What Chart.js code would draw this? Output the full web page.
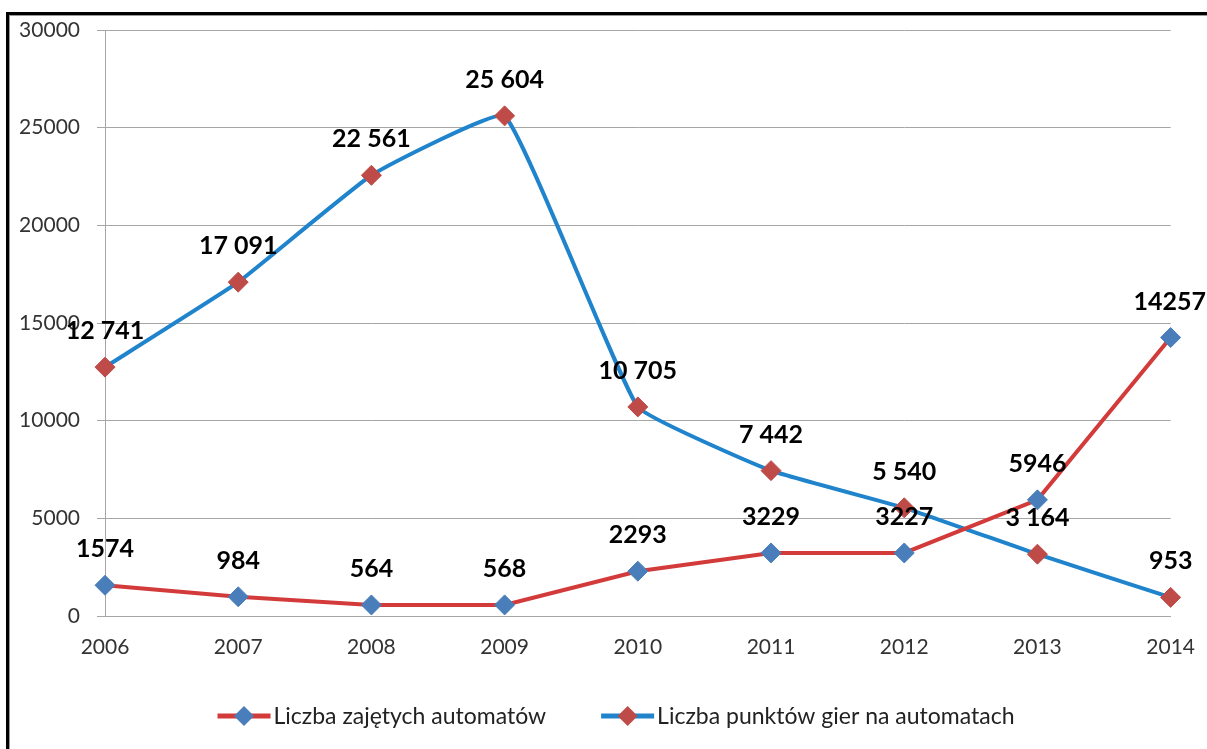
<!DOCTYPE html>
<html>
<head>
<meta charset="utf-8">
<script src="https://cdn.jsdelivr.net/npm/chart.js@4.4.1/dist/chart.umd.min.js"></script>
<style>
  html, body { margin: 0; padding: 0; background: #fff; }
  #frame {
    position: absolute; left: 6px; top: 12px; width: 1210px; height: 740px;
    border-left: 3px solid #000; border-top: 3px solid #000;
    box-shadow: inset 1px 1px 0 #9a9a9a;
  }
  #chart { position: absolute; left: 0; top: 0; }
</style>
</head>
<body>
<div id="frame"></div>
<canvas id="chart" width="1207" height="749"></canvas>
<script>
// lata na osi X
const years = ['2006', '2007', '2008', '2009', '2010', '2011', '2012', '2013', '2014'];

// Liczba zajętych automatów
const zajeteAutomaty = [1574, 984, 564, 568, 2293, 3229, 3227, 5946, 14257];

// Liczba punktów gier na automatach
const punktyGier = [12741, 17091, 22561, 25604, 10705, 7442, 5540, 3164, 953];

// oś Y
const yMin = 0;
const yMax = 30000;
const yStep = 5000;

const FONT = 'Lato';

const groupThousands = v => String(v).replace(/\B(?=(\d{3})+(?!\d))/g, ' ');

// etykiety wartości nad punktami
const pointLabels = {
    id: 'pointLabels',
    afterDatasetsDraw(chart) {
        const ctx = chart.ctx;
        ctx.save();
        ctx.font = `bold 25px ${FONT}`;
        ctx.fillStyle = '#000';
        ctx.textAlign = 'center';
        ctx.textBaseline = 'middle';
        chart.data.datasets.forEach((ds, i) => {
            const meta = chart.getDatasetMeta(i);
            meta.data.forEach((pt, j) => {
                const text = ds.grouped ? groupThousands(ds.data[j]) : String(ds.data[j]);
                const w = ctx.measureText(text).width;
                let x = pt.x;
                if (x + w / 2 > chart.width - 1) x = chart.width - 1 - w / 2;
                ctx.fillText(text, x, pt.y - 36);
            });
        });
        ctx.restore();
    }
};

// legenda: linia z rombem + opis
const lineLegend = {
    id: 'lineLegend',
    afterDraw(chart) {
        const ctx = chart.ctx;
        const sets = chart.data.datasets;
        const lineW = 53, gapText = 3, gapItem = 55;
        ctx.save();
        ctx.font = `23px ${FONT}`;
        const widths = sets.map(ds => lineW + gapText + ctx.measureText(ds.label).width);
        const total = widths.reduce((a, b) => a + b, 0) + gapItem * (sets.length - 1);
        let x = 616 - total / 2;
        const y = 716;
        sets.forEach((ds, i) => {
            ctx.strokeStyle = ds.borderColor;
            ctx.lineWidth = 5;
            ctx.beginPath();
            ctx.moveTo(x, y);
            ctx.lineTo(x + lineW, y);
            ctx.stroke();
            const r = 10, cx = x + lineW / 2;
            ctx.fillStyle = ds.pointBackgroundColor;
            ctx.beginPath();
            ctx.moveTo(cx, y - r);
            ctx.lineTo(cx + r, y);
            ctx.lineTo(cx, y + r);
            ctx.lineTo(cx - r, y);
            ctx.closePath();
            ctx.fill();
            ctx.fillStyle = '#222';
            ctx.textAlign = 'left';
            ctx.textBaseline = 'middle';
            ctx.fillText(ds.label, x + lineW + gapText, y + 1);
            x += widths[i] + gapItem;
        });
        ctx.restore();
    }
};

new Chart(document.getElementById('chart'), {
    type: 'line',
    data: {
        labels: years,
        datasets: [
            {
                label: 'Liczba zajętych automatów',
                data: zajeteAutomaty,
                grouped: false,
                borderColor: '#d33b3b',
                borderWidth: 4,
                tension: 0,
                pointStyle: 'rectRot',
                pointRadius: 10,
                pointBackgroundColor: '#4a7ebb',
                pointBorderColor: '#4a7ebb',
                pointBorderWidth: 1
            },
            {
                label: 'Liczba punktów gier na automatach',
                data: punktyGier,
                grouped: true,
                borderColor: '#1f84cc',
                borderWidth: 4,
                tension: 0.1,
                pointStyle: 'rectRot',
                pointRadius: 10,
                pointBackgroundColor: '#be4b48',
                pointBorderColor: '#be4b48',
                pointBorderWidth: 1
            }
        ]
    },
    options: {
        responsive: false,
        animation: false,
        layout: { padding: { top: 30, right: 31, left: 0, bottom: 53 } },
        plugins: {
            legend: { display: false },
            tooltip: { enabled: false }
        },
        scales: {
            x: {
                offset: false,
                grid: { display: false, drawTicks: true, tickLength: 7, color: '#a6a6a6' },
                border: { color: '#a6a6a6', width: 1 },
                ticks: { font: { family: FONT, size: 21 }, color: '#333', padding: 12, maxRotation: 0 },
                afterFit: s => { s.height = 80; }
            },
            y: {
                min: yMin,
                max: yMax,
                grid: { color: '#a6a6a6', tickLength: 8 },
                border: { color: '#a6a6a6', width: 1 },
                ticks: {
                    stepSize: yStep,
                    font: { family: FONT, size: 21 },
                    color: '#333',
                    padding: 17,
                    callback: v => String(v)
                },
                afterFit: s => { s.width = 105; }
            }
        }
    },
    plugins: [pointLabels, lineLegend]
});
</script>
</body>
</html>
